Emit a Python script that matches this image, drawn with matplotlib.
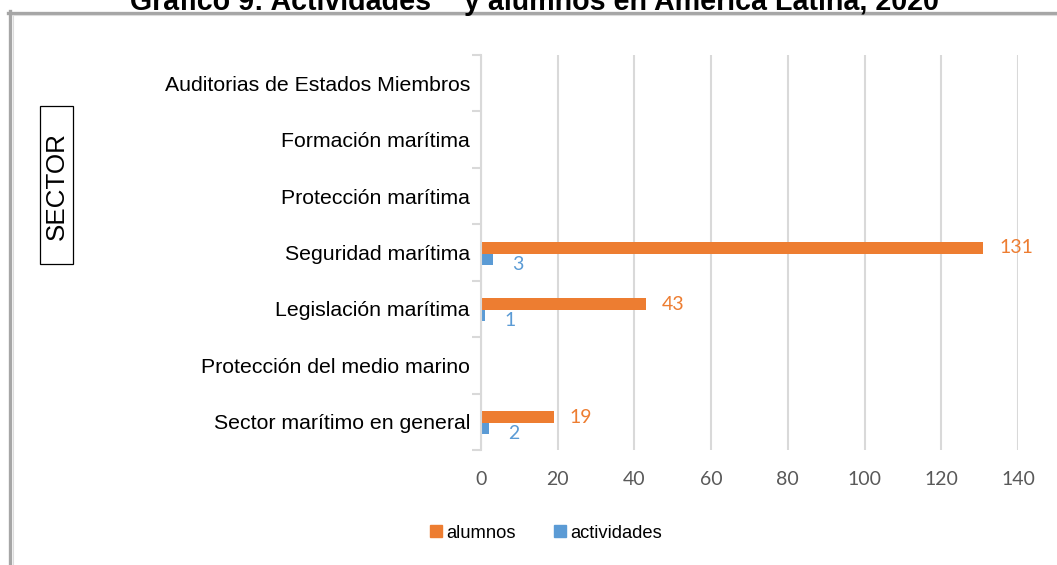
import numpy as np
import matplotlib.pyplot as plt
from matplotlib.patches import Rectangle
from matplotlib.lines import Line2D
from matplotlib.text import Annotation

# data (bottom to top)
sectores = ["Sector marítimo en general", "Protección del medio marino",
            "Legislación marítima", "Seguridad marítima", "Protección marítima",
            "Formación marítima", "Auditorias de Estados Miembros"]
alumnos = [19, 0, 43, 131, 0, 0, 0]
actividades = [2, 0, 1, 3, 0, 0, 0]
x_ticks = [0, 20, 40, 60, 80, 100, 120, 140]

naranja = '#ED7D31'
azul = '#5B9BD5'
gris = '#d9d9d9'

W, H = 1057, 565
fig = plt.figure(figsize=(W / 100, H / 100), dpi=100)


def fx(px):
    return px / W


def fy(py):
    return 1 - py / H


# outer frame (only top and left visible)
fig.add_artist(Line2D([fx(8), 1.0], [fy(12.5), fy(12.5)], color='#a6a6a6', lw=2.4, transform=fig.transFigure))
fig.add_artist(Line2D([fx(10), fx(10)], [fy(11), 0.0], color='#a6a6a6', lw=2.4, transform=fig.transFigure))
fig.add_artist(Line2D([fx(12), 1.0], [fy(14.5), fy(14.5)], color='#dcdcdc', lw=0.8, transform=fig.transFigure))
fig.add_artist(Line2D([fx(12.5), fx(12.5)], [fy(14.5), 0.0], color='#dcdcdc', lw=0.8, transform=fig.transFigure))

# title (its top is cut off in the original); "**" is a superscript
tfont = dict(fontsize=20.6, fontweight='bold', family='Liberation Sans')
t1 = fig.text(fx(130), fy(9.5), "Gráfico 9: Actividades", ha='left', va='baseline', **tfont)
fig.add_artist(Annotation("**", xy=(1, 1), xycoords=t1, xytext=(1, 2), textcoords='offset points',
                          ha='left', va='bottom', fontsize=12, fontweight='bold',
                          family='Liberation Sans', annotation_clip=False))
fig.add_artist(Annotation("y alumnos en América Latina, 2020", xy=(1, 0), xycoords=t1,
                          xytext=(24, 0), textcoords='offset points', ha='left', va='bottom',
                          annotation_clip=False, **tfont))

ax = fig.add_axes([fx(481), fy(450), fx(1018) - fx(481), fy(55) - fy(450)])
y = np.arange(len(sectores))
ax.barh(y + 0.08, alumnos, height=0.21, color=naranja, label='alumnos')
ax.barh(y - 0.12, actividades, height=0.19, color=azul, label='actividades')

for i, v in enumerate(alumnos):
    if v:
        ax.annotate(str(v), (v, y[i] + 0.08), xytext=(11.5, 0), textcoords='offset points',
                    va='center', ha='left', color=naranja, fontsize=14, family='Lato')
for i, v in enumerate(actividades):
    if v:
        ax.annotate(str(v), (v, y[i] - 0.12), xytext=(14, -3.5), textcoords='offset points',
                    va='center', ha='left', color=azul, fontsize=14, family='Lato')

ax.set_xlim(0, 140)
ax.set_ylim(-0.5, 6.5)
ax.set_xticks(x_ticks)
ax.grid(axis='x', color=gris, lw=1.5)
ax.set_axisbelow(True)
for s in ['top', 'right', 'bottom']:
    ax.spines[s].set_visible(False)
ax.spines['left'].set_color(gris)
ax.spines['left'].set_linewidth(1.5)

ax.set_yticks(y, sectores, fontsize=15.3, family='Liberation Sans')
ax.set_yticks(np.arange(-0.5, 7, 1), minor=True)
ax.tick_params(axis='y', which='major', length=0, pad=8)
ax.tick_params(axis='y', which='minor', length=6.5, color=gris, width=1.5)
ax.tick_params(axis='x', length=0, pad=15, labelsize=14, labelcolor='#595959')
for lbl in ax.get_xticklabels():
    lbl.set_fontfamily('Lato')

# SECTOR box on the left
fig.add_artist(Rectangle((fx(40), fy(264)), fx(73) - fx(40), fy(106) - fy(264),
                         fill=False, edgecolor='black', lw=0.9, transform=fig.transFigure))
fig.text(fx(57), fy(186), "SECTOR", rotation=90, ha='center', va='center',
         fontsize=18.7, family='Liberation Sans')

# legend
handles = [Rectangle((0, 0), 1, 1, color=naranja), Rectangle((0, 0), 1, 1, color=azul)]
fig.legend(handles, ['alumnos', 'actividades'], loc='center', bbox_to_anchor=(fx(546), fy(533)),
           ncol=2, frameon=False, handlelength=0.65, handleheight=0.65, handletextpad=0.25,
           columnspacing=2.1, prop={'family': 'Liberation Sans', 'size': 13.2})

fig.savefig('out.png', dpi=100)
